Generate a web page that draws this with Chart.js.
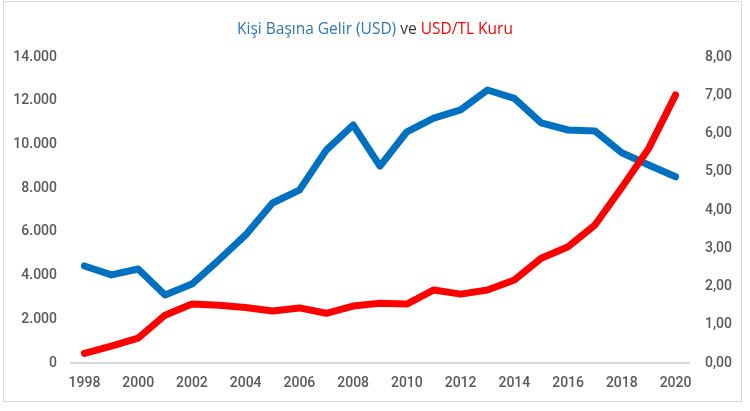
<!DOCTYPE html>
<html>
<head>
<meta charset="utf-8">
<script src="https://cdn.jsdelivr.net/npm/chart.js@4"></script>
<style>
  html, body { margin: 0; padding: 0; background: #fff; }
  #wrap { position: relative; width: 750px; height: 411px; }
  #frame { position: absolute; left: 3px; top: 1px; width: 739px; height: 401px; border: 1px solid #d9d9d9; box-sizing: border-box; }
  #title { position: absolute; left: 0; top: 17px; width: 750px; text-align: center; font-family: 'Open Sans', sans-serif; font-size: 15.5px; color: #333333; }
  #title .b { color: #2E75B6; }
  #title .r { color: #FF0000; }
  canvas { position: absolute; left: 0; top: 0; }
</style>
</head>
<body>
<div id="wrap">
  <div id="frame"></div>
  <canvas id="c" width="750" height="411"></canvas>
  <div id="title"><span class="b">Kişi Başına Gelir (USD)</span> ve <span class="r">USD/TL Kuru</span></div>
</div>
<script>
const years = ['1998','1999','2000','2001','2002','2003','2004','2005','2006','2007','2008','2009','2010','2011','2012','2013','2014','2015','2016','2017','2018','2019','2020'];
const incomeUSD = [4440, 4030, 4300, 3110, 3610, 4710, 5860, 7320, 7910, 9740, 10890, 9010, 10580, 11200, 11580, 12490, 12110, 10990, 10660, 10610, 9620, 9060, 8520];
const usdTry = [0.25, 0.44, 0.65, 1.25, 1.54, 1.51, 1.45, 1.36, 1.44, 1.30, 1.49, 1.56, 1.54, 1.91, 1.80, 1.91, 2.17, 2.74, 3.04, 3.61, 4.59, 5.61, 7.01];
const incomeLabel = 'Kişi Başına Gelir (USD)';
const rateLabel = 'USD/TL Kuru';

const tickFont = { family: 'Roboto, sans-serif', size: 14, weight: '500' };
const tickColor = '#595959';

new Chart(document.getElementById('c'), {
  type: 'line',
  data: {
    labels: years,
    datasets: [
      { label: rateLabel, data: usdTry, yAxisID: 'yR', borderColor: '#FF0000', backgroundColor: '#FF0000', borderWidth: 7, pointRadius: 0, tension: 0, borderCapStyle: 'round', borderJoinStyle: 'round', order: 0 },
      { label: incomeLabel, data: incomeUSD, yAxisID: 'yL', borderColor: '#0070C0', backgroundColor: '#0070C0', borderWidth: 7, pointRadius: 0, tension: 0, borderCapStyle: 'round', borderJoinStyle: 'round', order: 1 }
    ]
  },
  options: {
    responsive: false,
    animation: false,
    devicePixelRatio: 1,
    layout: { padding: { top: 57, left: 0, right: 0, bottom: 0 } },
    plugins: { legend: { display: false }, title: { display: false }, tooltip: { enabled: false } },
    scales: {
      x: {
        offset: true,
        grid: { display: false, drawTicks: false },
        border: { display: true, color: '#d9d9d9', width: 2 },
        ticks: {
          autoSkip: false, maxRotation: 0, padding: 12, font: tickFont, color: tickColor,
          callback: function(v, i) { return i % 2 === 0 ? years[i] : ''; }
        },
        afterFit: s => { s.height = 48; }
      },
      yL: {
        position: 'left', min: 0, max: 14000,
        grid: { display: false, drawTicks: false },
        border: { display: false },
        ticks: { stepSize: 2000, padding: 14, font: tickFont, color: tickColor,
          callback: v => v.toLocaleString('de-DE') },
        afterFit: s => { s.width = 71; }
      },
      yR: {
        position: 'right', min: 0, max: 8,
        grid: { display: false, drawTicks: false },
        border: { display: false },
        ticks: { stepSize: 1, padding: 16, font: tickFont, color: tickColor,
          callback: v => v.toFixed(2).replace('.', ',') },
        afterFit: s => { s.width = 61; }
      }
    }
  }
});
</script>
</body>
</html>
